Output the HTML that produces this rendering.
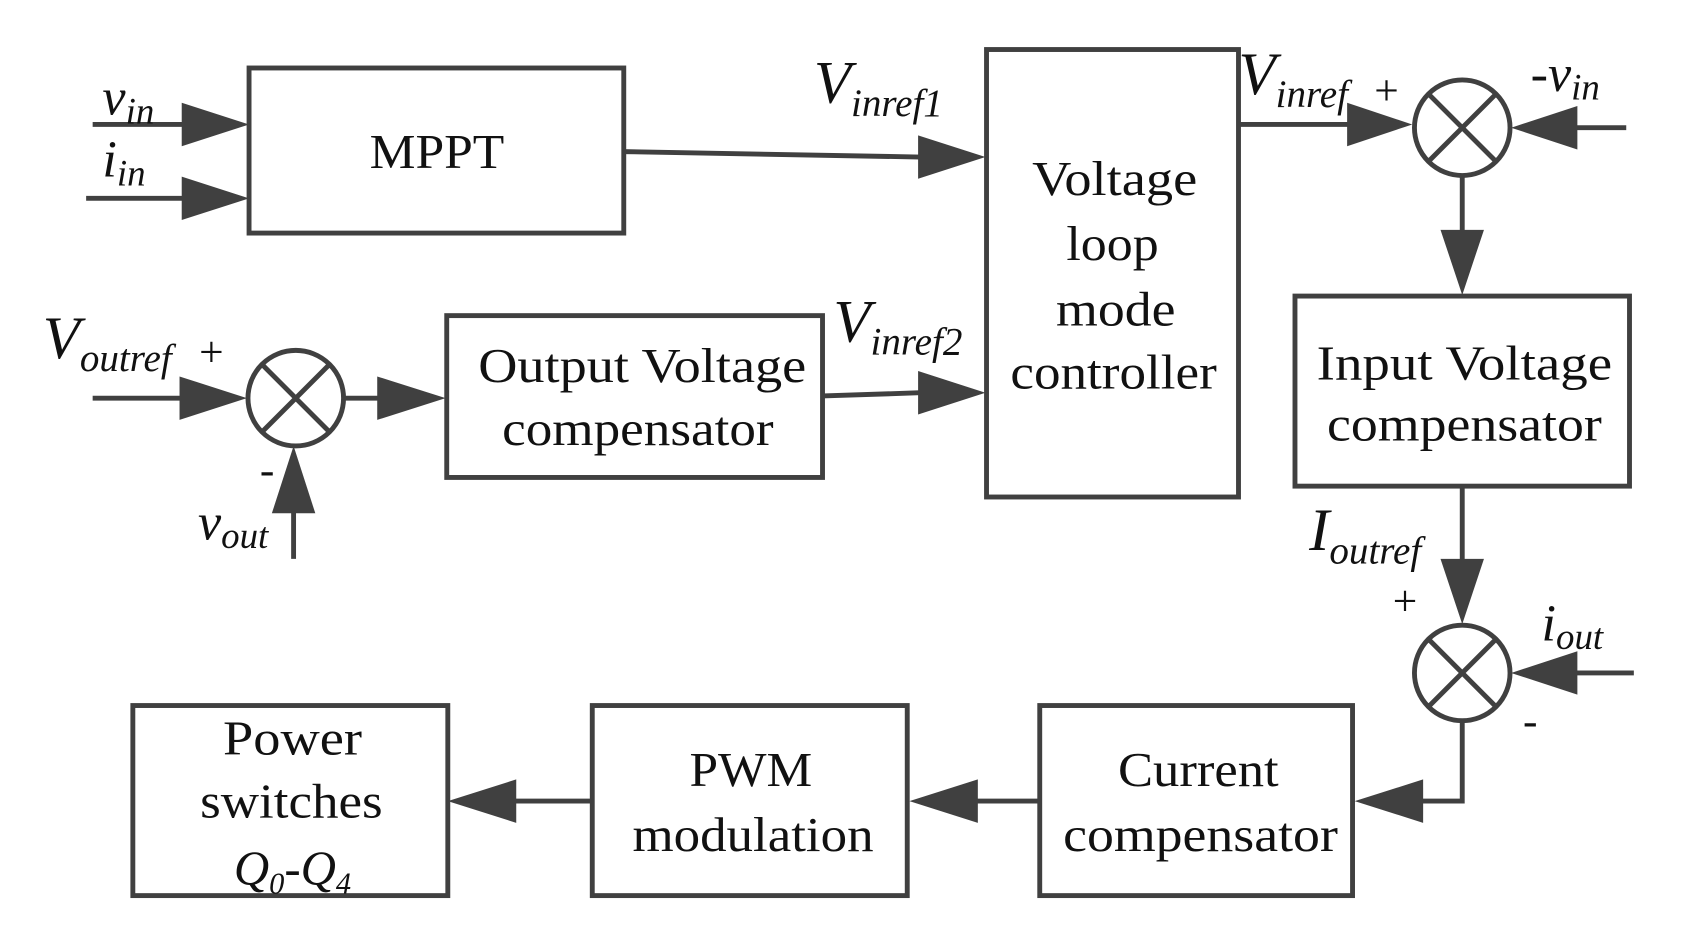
<!DOCTYPE html>
<html><head><meta charset="utf-8"><style>
html,body{margin:0;padding:0;background:#fff;}
svg{display:block;}
text{font-family:"Liberation Serif",serif;fill:#111;}
.b{font-size:45px;text-anchor:middle;}
.i{font-style:italic;}
</style></head><body>
<svg width="1700" height="946" viewBox="2.8 0.4 1565 871" xmlns="http://www.w3.org/2000/svg">
<g stroke="#404040" stroke-width="4.5" fill="none">
<rect x="232" y="63" width="345" height="152"/>
<rect x="911" y="46" width="232" height="412"/>
<rect x="414" y="291" width="346" height="149"/>
<rect x="1195" y="273" width="308" height="175"/>
<rect x="960" y="650" width="288" height="175"/>
<rect x="548" y="650" width="290" height="175"/>
<rect x="125" y="650" width="290" height="175"/>
<circle cx="275" cy="367" r="44"/>
<path d="M244 336L306 398M306 336L244 398"/>
<circle cx="1349" cy="118" r="44"/>
<path d="M1318 87L1380 149M1380 87L1318 149"/>
<circle cx="1349" cy="620" r="44"/>
<path d="M1318 589L1380 651M1380 589L1318 651"/>
<path d="M88 115H175M82 183H175M577 140L850 145M88 367H175M320 367H355M273 515V470M760 365L850 362M1143 115H1245M1500 118H1450M1349 163V215M1349 448V518M1507 620H1450M1349 665V738H1310M960 738H900M548 738H475"/>
</g>
<g fill="#404040">
<path d="M232 115L170 95V135Z"/>
<path d="M232 183L170 163V203Z"/>
<path d="M910 145L848 125V165Z"/>
<path d="M230 367L168 347V387Z"/>
<path d="M413 367L350 347V387Z"/>
<path d="M273 411L253 473H293Z"/>
<path d="M910 362L848 342V382Z"/>
<path d="M1303 115L1243 95V135Z"/>
<path d="M1394 118L1455 98V138Z"/>
<path d="M1349 272L1329 212H1369Z"/>
<path d="M1349 575L1329 515H1369Z"/>
<path d="M1394 620L1455 600V640Z"/>
<path d="M1250 738L1313 718V758Z"/>
<path d="M840 738L903 718V758Z"/>
<path d="M415 738L478 718V758Z"/>
</g>
<text class="b" x="405" y="155" textLength="124" lengthAdjust="spacingAndGlyphs">MPPT</text>
<text class="b" x="1029" y="180" textLength="152" lengthAdjust="spacingAndGlyphs">Voltage</text>
<text class="b" x="1027" y="240" textLength="85" lengthAdjust="spacingAndGlyphs">loop</text>
<text class="b" x="1030" y="300" textLength="110" lengthAdjust="spacingAndGlyphs">mode</text>
<text class="b" x="1028" y="358" textLength="190" lengthAdjust="spacingAndGlyphs">controller</text>
<text class="b" x="594" y="352" textLength="302" lengthAdjust="spacingAndGlyphs">Output Voltage</text>
<text class="b" x="590" y="410" textLength="250" lengthAdjust="spacingAndGlyphs">compensator</text>
<text class="b" x="1351" y="350" textLength="272" lengthAdjust="spacingAndGlyphs">Input Voltage</text>
<text class="b" x="1351" y="406" textLength="253" lengthAdjust="spacingAndGlyphs">compensator</text>
<text class="b" x="1106" y="724" textLength="148" lengthAdjust="spacingAndGlyphs">Current</text>
<text class="b" x="1108" y="784" textLength="253" lengthAdjust="spacingAndGlyphs">compensator</text>
<text class="b" x="694" y="724" textLength="113" lengthAdjust="spacingAndGlyphs">PWM</text>
<text class="b" x="696" y="784" textLength="222" lengthAdjust="spacingAndGlyphs">modulation</text>
<text class="b" x="272" y="695" textLength="128" lengthAdjust="spacingAndGlyphs">Power</text>
<text class="b" x="271" y="753" textLength="168" lengthAdjust="spacingAndGlyphs">switches</text>
<text class="b i" x="272" y="815">Q<tspan font-size="28" dy="8">0</tspan><tspan dy="-8">-Q</tspan><tspan font-size="28" dy="8">4</tspan></text>
<text class="i" x="97" y="106" font-size="48">v<tspan font-size="34" dy="8">in</tspan></text>
<text class="i" x="97" y="163" font-size="48">i<tspan font-size="34" dy="8">in</tspan></text>
<text class="i" x="752" y="95" font-size="56">V<tspan font-size="36" dy="12">inref1</tspan></text>
<text class="i" x="42" y="330" font-size="56">V<tspan font-size="36" dy="12">outref</tspan></text>
<text x="186" y="338" font-size="40">+</text>
<text x="242" y="446" font-size="40">-</text>
<text class="i" x="185" y="497" font-size="48">v<tspan font-size="34" dy="8">out</tspan></text>
<text class="i" x="770" y="315" font-size="56">V<tspan font-size="36" dy="12">inref2</tspan></text>
<text class="i" x="1143" y="87" font-size="56">V<tspan font-size="36" dy="12">inref</tspan></text>
<text x="1268" y="97" font-size="40">+</text>
<text class="i" x="1412" y="84" font-size="48">-v<tspan font-size="34" dy="8">in</tspan></text>
<text class="i" x="1208" y="507" font-size="56">I<tspan font-size="36" dy="12">outref</tspan></text>
<text x="1285" y="567" font-size="40">+</text>
<text class="i" x="1422" y="590" font-size="48">i<tspan font-size="34" dy="8">out</tspan></text>
<text x="1405" y="677" font-size="40">-</text>
</svg>
</body></html>
